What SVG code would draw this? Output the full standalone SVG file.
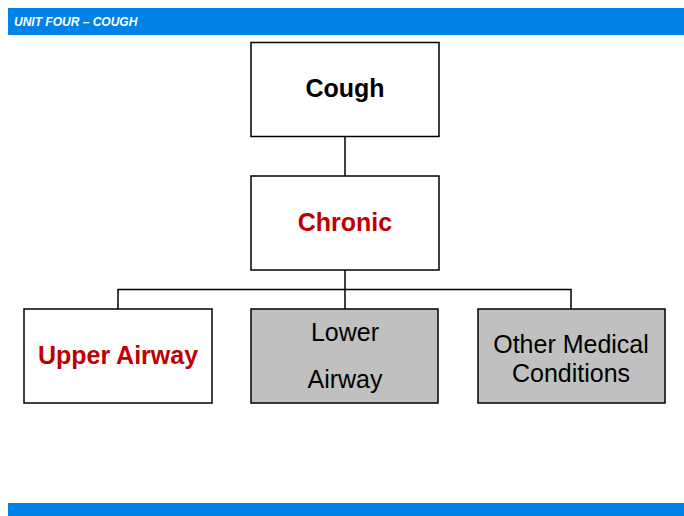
<svg xmlns="http://www.w3.org/2000/svg" width="684" height="516" viewBox="0 0 684 516">
<style>
.box{stroke:#000;stroke-width:1.5}
.w{fill:#fff}
.g{fill:#c0c0c0}
.b{font-family:"Liberation Sans",Arial,sans-serif;font-weight:bold;font-size:25px;text-anchor:middle}
.r{font-family:"Liberation Sans",Arial,sans-serif;font-size:25px;text-anchor:middle;fill:#000}
.red{fill:#c00000}
.conn{stroke:#000;stroke-width:1.5;fill:none}
</style>
<rect width="684" height="516" fill="#fff"/>
<rect x="8" y="8" width="676" height="27" fill="#0082e6"/>
<text x="14" y="26" font-family="'Liberation Sans',Arial,sans-serif" font-size="12" font-weight="bold" font-style="italic" fill="#fff">UNIT FOUR – COUGH</text>
<rect x="8" y="503" width="676" height="13" fill="#0082e6"/>
<g id="connectors">
<line class="conn" x1="345" y1="137" x2="345" y2="176"/>
<line class="conn" x1="345" y1="270" x2="345" y2="309"/>
<polyline class="conn" points="118,309 118,289.5 571,289.5 571,309"/>
</g>
<g id="cough">
<rect class="box w" x="251" y="42.5" width="188" height="94"/>
<text class="b" x="345" y="97">Cough</text>
</g>
<g id="chronic">
<rect class="box w" x="251" y="176" width="188" height="94"/>
<text class="b red" x="345" y="231">Chronic</text>
</g>
<g id="upper">
<rect class="box w" x="24" y="309" width="188" height="94"/>
<text class="b red" x="118" y="364">Upper Airway</text>
</g>
<g id="lower">
<rect class="box g" x="251" y="309" width="187" height="94"/>
<text class="r" x="345" y="341">Lower</text>
<text class="r" x="345" y="388">Airway</text>
</g>
<g id="other">
<rect class="box g" x="478" y="309" width="187" height="94"/>
<text class="r" x="571" y="353">Other Medical</text>
<text class="r" x="571" y="382">Conditions</text>
</g>
</svg>
